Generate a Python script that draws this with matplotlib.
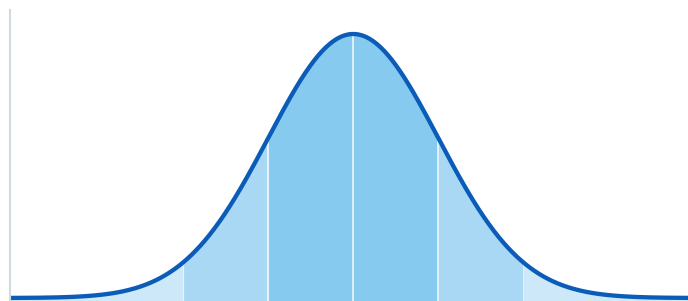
import numpy as np
import matplotlib
matplotlib.use("Agg")
import matplotlib.pyplot as plt

# Distribution parameters (standard normal)
mu = 0.0
sigma = 1.0
x_range = (-4.04, 3.94)
# Band edges (in sigma units)
band_edges = [-1, 1]
band2_edges = [-2, 2]
separators_main = [-1, 0, 1]
separators_faint = [-2, 2]

c_center = "#86caef"
c_mid = "#a9d8f4"
c_outer = "#cde8f9"
c_line = "#0a5cb8"

x = np.linspace(x_range[0], x_range[1], 1200)
pdf = np.exp(-0.5 * ((x - mu) / sigma) ** 2) / (sigma * np.sqrt(2 * np.pi))

fig = plt.figure(figsize=(6.88, 3.01), dpi=100)
ax = fig.add_axes([10 / 688, 0, 1 - 10 / 688, 291 / 301])
ymin, ymax = -0.00453, 0.4352
ax.set_xlim(*x_range)
ax.set_ylim(ymin, ymax)

ax.fill_between(x, ymin, pdf, color=c_outer, lw=0)
m2 = (x >= band2_edges[0]) & (x <= band2_edges[1])
ax.fill_between(x[m2], ymin, pdf[m2], color=c_mid, lw=0)
m1 = (x >= band_edges[0]) & (x <= band_edges[1])
ax.fill_between(x[m1], ymin, pdf[m1], color=c_center, lw=0)

for s in separators_main:
    h = np.exp(-0.5 * s ** 2) / np.sqrt(2 * np.pi)
    ax.plot([s, s], [ymin, h], color="white", lw=1.2, alpha=0.85, solid_capstyle="butt")
for s in separators_faint:
    h = np.exp(-0.5 * s ** 2) / np.sqrt(2 * np.pi)
    ax.plot([s, s], [ymin, h], color="white", lw=0.8, alpha=0.5, solid_capstyle="butt")

ax.plot(x, pdf, color=c_line, lw=3.1, solid_capstyle="round")

for sp in ["top", "right", "bottom"]:
    ax.spines[sp].set_visible(False)
ax.spines["left"].set_color("#cfd9e0")
ax.spines["left"].set_linewidth(1.5)
ax.set_xticks([])
ax.set_yticks([])

fig.savefig("out.png", dpi=100)
